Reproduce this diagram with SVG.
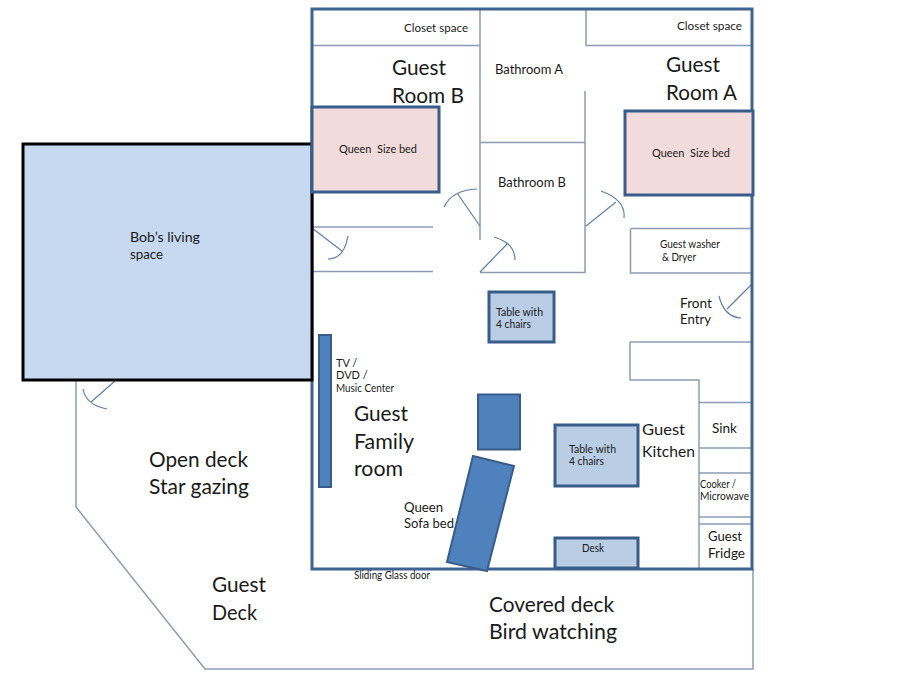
<svg xmlns="http://www.w3.org/2000/svg" width="911" height="683" viewBox="0 0 911 683">
<style>
text{font-family:"Lato","Open Sans","Liberation Sans",sans-serif;fill:#1a1a1a;white-space:pre}
.l{font-size:20.500px}.m{font-size:13.500px}.s{font-size:11px}.k{font-size:16px}
.w{fill:none;stroke:#8c9db3;stroke-width:1.500}
.d{fill:none;stroke:#5f7fa6;stroke-width:1.200}
.bed{fill:#f2dcdb;stroke:#385d8a;stroke-width:3}
.tb{fill:#b9cde5;stroke:#385d8a;stroke-width:3}
.bl{fill:#4f81bd;stroke:#385d8a;stroke-width:2}
</style>
<rect width="911" height="683" fill="#fff"/>
<g id="connectors">
<path class="w" d="M76 380V507L205 669H753V569"/>
<path class="w" d="M312 45.500H480M480 9V240M586 9V45.500H752M585 91V272.500H480M480 142.500H585M312 227H433M312 271.500H433"/>
<path class="w" d="M630.500 228.500H752M630.500 228.500V273H752M630 342H752M630 342V380H699V569M699 402.500H752M699 448H752M699 473H752M699 517H752M699 524H752"/>
<path class="d" d="M480 226L457 193M444 207Q452 190 477 189M586 226L616 202M601 191Q626 200 624 218M480 272L508 243M494 237Q515 243 515 260M312 228L342 251M348 236Q344 259 328 259M752 284L727 309M719 296Q724 317 741 318M115 381L91 402M83 389Q86 405 107 409"/>
</g>
<g id="outer"><rect x="312" y="9" width="440" height="560" fill="none" stroke="#3f6391" stroke-width="3"/></g>
<g id="bobs-living-space"><rect x="23" y="144" width="289" height="236" fill="#c6d9f1" stroke="#000" stroke-width="3"/>
<text class="m" x="130" y="242" textLength="70" lengthAdjust="spacingAndGlyphs">Bob’s living</text><text class="m" x="130" y="259" textLength="33" lengthAdjust="spacingAndGlyphs">space</text></g>
<g id="bed-b"><rect class="bed" x="312" y="107" width="127" height="85"/><text class="s" x="339" y="153" textLength="78" lengthAdjust="spacingAndGlyphs">Queen  Size bed</text></g>
<g id="bed-a"><rect class="bed" x="625" y="111" width="128" height="84"/><text class="s" x="652" y="157" textLength="78" lengthAdjust="spacingAndGlyphs">Queen  Size bed</text></g>
<g id="tv"><rect class="bl" x="319" y="335" width="12" height="152"/><text class="s" x="336" y="367">TV /</text><text class="s" x="336" y="379">DVD /</text><text class="s" x="336" y="392" textLength="58" lengthAdjust="spacingAndGlyphs">Music Center</text></g>
<g id="table-1"><rect class="tb" x="489" y="292" width="65" height="50"/><text class="s" x="496" y="316" textLength="47" lengthAdjust="spacingAndGlyphs">Table with</text><text class="s" x="496" y="328" textLength="35" lengthAdjust="spacingAndGlyphs">4 chairs</text></g>
<g id="table-2"><rect class="tb" x="555" y="425" width="83" height="61"/><text class="s" x="569" y="453" textLength="47" lengthAdjust="spacingAndGlyphs">Table with</text><text class="s" x="569" y="465" textLength="35" lengthAdjust="spacingAndGlyphs">4 chairs</text></g>
<g id="desk"><rect class="tb" x="555" y="538" width="83" height="30"/><text class="s" x="582" y="552" textLength="22" lengthAdjust="spacingAndGlyphs">Desk</text></g>
<g id="ottoman"><rect class="bl" x="478" y="394.500" width="42" height="55"/></g>
<g id="sofa"><polygon class="bl" points="473,456 514,466 487,571 447,562"/></g>
<g id="labels">
<text class="s" x="404" y="32" textLength="64" lengthAdjust="spacingAndGlyphs">Closet space</text><text class="s" x="677" y="30" textLength="65" lengthAdjust="spacingAndGlyphs">Closet space</text>
<text class="l" x="392" y="75" textLength="54" lengthAdjust="spacingAndGlyphs">Guest</text><text class="l" x="392" y="103" textLength="72" lengthAdjust="spacingAndGlyphs">Room B</text>
<text class="l" x="666" y="72" textLength="54" lengthAdjust="spacingAndGlyphs">Guest</text><text class="l" x="666" y="100" textLength="71" lengthAdjust="spacingAndGlyphs">Room A</text>
<text class="m" x="495" y="74" textLength="68" lengthAdjust="spacingAndGlyphs">Bathroom A</text><text class="m" x="498" y="187" textLength="68" lengthAdjust="spacingAndGlyphs">Bathroom B</text>
<text class="s" x="660" y="248" textLength="60" lengthAdjust="spacingAndGlyphs">Guest washer</text><text class="s" x="662" y="261" textLength="34" lengthAdjust="spacingAndGlyphs">&amp; Dryer</text>
<text class="m" x="680" y="308" textLength="32" lengthAdjust="spacingAndGlyphs">Front</text><text class="m" x="680" y="324" textLength="31" lengthAdjust="spacingAndGlyphs">Entry</text>
<text class="m" x="712" y="433" textLength="25" lengthAdjust="spacingAndGlyphs">Sink</text>
<text class="s" x="700" y="488" textLength="36" lengthAdjust="spacingAndGlyphs">Cooker /</text><text class="s" x="700" y="500" textLength="49" lengthAdjust="spacingAndGlyphs">Microwave</text>
<text class="m" x="708" y="541" textLength="34" lengthAdjust="spacingAndGlyphs">Guest</text><text class="m" x="708" y="558" textLength="37" lengthAdjust="spacingAndGlyphs">Fridge</text>
<text class="l" x="354" y="421" textLength="54" lengthAdjust="spacingAndGlyphs">Guest</text><text class="l" x="354" y="449" textLength="60" lengthAdjust="spacingAndGlyphs">Family</text><text class="l" x="354" y="476" textLength="49" lengthAdjust="spacingAndGlyphs">room</text>
<text class="m" x="404" y="512" textLength="39" lengthAdjust="spacingAndGlyphs">Queen</text><text class="m" x="404" y="528" textLength="50" lengthAdjust="spacingAndGlyphs">Sofa bed</text>
<text class="s" x="354" y="579" textLength="76" lengthAdjust="spacingAndGlyphs">Sliding Glass door</text>
<text class="l" x="149" y="467" textLength="99" lengthAdjust="spacingAndGlyphs">Open deck</text><text class="l" x="149" y="494" textLength="100" lengthAdjust="spacingAndGlyphs">Star gazing</text>
<text class="l" x="212" y="592" textLength="54" lengthAdjust="spacingAndGlyphs">Guest</text><text class="l" x="212" y="620" textLength="45" lengthAdjust="spacingAndGlyphs">Deck</text>
<text class="l" x="489" y="612" textLength="125" lengthAdjust="spacingAndGlyphs">Covered deck</text><text class="l" x="489" y="639" textLength="128" lengthAdjust="spacingAndGlyphs">Bird watching</text>
<text class="k" x="642" y="435" textLength="43" lengthAdjust="spacingAndGlyphs">Guest</text><text class="k" x="642" y="457" textLength="53" lengthAdjust="spacingAndGlyphs">Kitchen</text>
</g>
</svg>
